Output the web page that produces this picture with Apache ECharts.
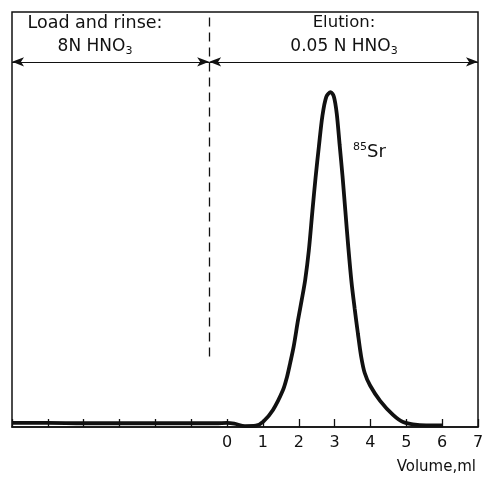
<!DOCTYPE html>
<html>
<head>
<meta charset="utf-8">
<script src="https://cdn.jsdelivr.net/npm/echarts@6/dist/echarts.min.js"></script>
<style>html,body{margin:0;padding:0;background:#fff;}#c{width:504px;height:482px;}</style>
</head>
<body>
<div id="c"></div>
<script>
// Data (volume in ml, relative activity)
var volume = [-6, -5, -4, -3, -2, -1, -0.3, 0, 0.2, 0.5, 0.8, 1.01, 1.28, 1.56, 1.67, 1.76, 1.86, 1.98, 2.08, 2.18, 2.28, 2.38, 2.47, 2.56, 2.66, 2.77, 2.89, 2.98, 3.06, 3.14, 3.22, 3.30, 3.38, 3.47, 3.56, 3.65, 3.74, 3.84, 3.99, 4.27, 4.63, 4.91, 5.31, 5.67, 6.0];
var activity = [1.0, 1.0, 0.9, 0.9, 0.9, 0.9, 0.9, 1.0, 0.8, 0.2, 0.3, 1.3, 4.1, 8.9, 12.0, 15.4, 19.5, 25.8, 30.5, 35.5, 42.5, 52.0, 60.2, 67.5, 75.0, 79.6, 80.7, 79.6, 75.5, 68.0, 60.5, 52.0, 43.5, 35.0, 28.5, 22.5, 17.0, 13.0, 10.0, 6.3, 2.9, 1.2, 0.5, 0.4, 0.4];
var tickLabels = ['0', '1', '2', '3', '4', '5', '6', '7'];
var xMin = -6, xMax = 7;
var divider = -0.5;        // boundary between load/rinse and elution
var dividerBottom = 17;    // lower end of dashed divider
var arrowLevel = 88;       // level of the range arrows

var points = volume.map(function (v, i) { return [v, activity[i]]; });
var font = 'DejaVu Sans';

function txt(x, y, text, rich, extra) {
  var st = { x: x, y: y, text: text, fill: '#111', textAlign: 'center', textVerticalAlign: 'top' };
  if (rich) st.rich = rich; else st.font = (extra || '17px') + ' "DejaVu Sans"';
  return { type: 'text', style: st };
}
var richSub = { n: { fontFamily: font, fontSize: 17, color: '#111' }, s: { fontFamily: font, fontSize: 11, color: '#111', padding: [9, 0, 0, 0] } };

var chart = echarts.init(document.getElementById('c'));
chart.setOption({
  animation: false,
  backgroundColor: '#fff',
  grid: { left: 12, right: 26, top: 12, bottom: 55, show: true, borderColor: '#111', borderWidth: 1.5, backgroundColor: 'transparent' },
  xAxis: {
    type: 'value', min: xMin, max: xMax, interval: 1,
    axisLine: { show: true, lineStyle: { color: '#111', width: 1.5 } },
    axisTick: { show: true, inside: true, length: 8, lineStyle: { color: '#111', width: 1.3 } },
    splitLine: { show: false },
    axisLabel: {
      color: '#111', fontFamily: font, fontSize: 16, margin: 8,
      formatter: function (v) { return v >= 0 ? tickLabels[v] : ''; }
    }
  },
  yAxis: { type: 'value', min: 0, max: 100, show: false },
  graphic: [
    txt(95, 14, 'Load and rinse:', null, '17.5px'),
    txt(95, 37, '{n|8N HNO}{s|3}', richSub),
    txt(344, 14, 'Elution:', null, '16.5px'),
    txt(344, 37, '{n|0.05 N HNO}{s|3}', richSub),
    { type: 'text', style: { x: 353, y: 142, text: '{p|85}{n|Sr}', fill: '#111', rich: { p: { fontFamily: font, fontSize: 11, color: '#111', padding: [0, 0, 9, 0] }, n: { fontFamily: font, fontSize: 18, color: '#111' } } } },
    { type: 'text', style: { x: 476, y: 460, text: 'Volume,ml', font: '15px "DejaVu Sans"', fill: '#111', textAlign: 'right' } }
  ],
  series: [
    {
      type: 'line', data: points, smooth: 0.3, showSymbol: false,
      lineStyle: { color: '#111', width: 3.8 },
      markLine: {
        silent: true, animation: false,
        label: { show: false },
        data: [
          [{ coord: [divider, dividerBottom], symbol: 'none', lineStyle: { type: [9, 6], width: 1.3, color: '#111' } },
           { coord: [divider, 100], symbol: 'none' }],
          [{ coord: [xMin, arrowLevel], symbol: 'arrow', symbolSize: [7, 12], lineStyle: { type: 'solid', width: 1.2, color: '#111' } },
           { coord: [divider, arrowLevel], symbol: 'arrow', symbolSize: [7, 12] }],
          [{ coord: [divider, arrowLevel], symbol: 'arrow', symbolSize: [7, 12], lineStyle: { type: 'solid', width: 1.2, color: '#111' } },
           { coord: [xMax, arrowLevel], symbol: 'arrow', symbolSize: [7, 12] }]
        ]
      }
    }
  ]
});
</script>
</body>
</html>
